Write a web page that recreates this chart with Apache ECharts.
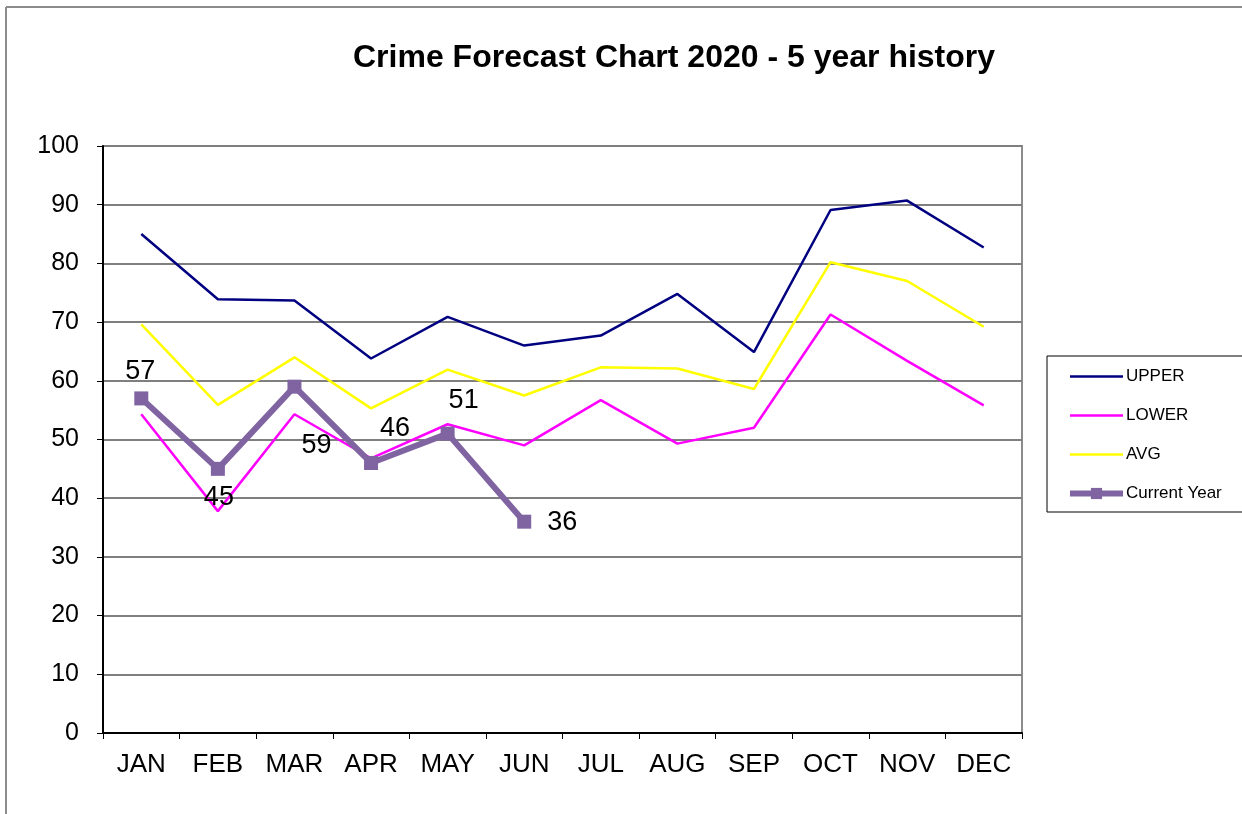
<!DOCTYPE html>
<html>
<head>
<meta charset="utf-8">
<script src="https://cdn.jsdelivr.net/npm/echarts@6/dist/echarts.min.js"></script>
<style>
html, body { margin: 0; padding: 0; background: #fff; }
#chart { width: 1242px; height: 814px; }
</style>
</head>
<body>
<div id="chart"></div>
<script>
// data
var months = ['JAN', 'FEB', 'MAR', 'APR', 'MAY', 'JUN', 'JUL', 'AUG', 'SEP', 'OCT', 'NOV', 'DEC'];
var upper = [85.0, 73.9, 73.7, 63.8, 70.9, 66.0, 67.7, 74.8, 64.9, 89.1, 90.7, 82.7];
var lower = [54.3, 37.8, 54.3, 46.8, 52.6, 49.0, 56.7, 49.3, 52.0, 71.3, 63.4, 55.8];
var avg = [69.6, 55.9, 64.0, 55.3, 61.9, 57.5, 62.3, 62.1, 58.6, 80.2, 77.0, 69.2];
var currentYear = [57, 45, 59, 46, 51, 36];
var yTicks = [0, 10, 20, 30, 40, 50, 60, 70, 80, 90, 100];

// where each data label sits relative to its point
var labelOffsets = [[-1, -27], [1, 29], [22, 59], [24, -34], [16, -33], [38, 1]];

var font = 'Liberation Sans, Arial, sans-serif';
var chart = echarts.init(document.getElementById('chart'));

var currentData = currentYear.map(function (v, i) {
    return {
        value: v,
        label: { show: true, position: 'inside', offset: labelOffsets[i] }
    };
});

chart.setOption({
    animation: false,
    backgroundColor: '#fff',
    textStyle: { fontFamily: font },
    title: {
        text: 'Crime Forecast Chart 2020 - 5 year history',
        left: 353,
        top: 42,
        padding: 0,
        textStyle: { fontFamily: font, fontSize: 32, fontWeight: 'bold', color: '#000' }
    },
    graphic: [
        { type: 'line', shape: { x1: 6, y1: 7, x2: 1242, y2: 7 }, style: { stroke: '#8c8c8c', lineWidth: 2 } },
        { type: 'line', shape: { x1: 6, y1: 7, x2: 6, y2: 814 }, style: { stroke: '#8c8c8c', lineWidth: 2 } }
    ],
    legend: {
        orient: 'vertical',
        left: 1047,
        top: 356,
        padding: [12, 40, 10, 20],
        borderColor: '#000',
        borderWidth: 1,
        itemWidth: 53,
        itemHeight: 14,
        itemGap: 22,
        textStyle: { fontFamily: font, fontSize: 17, color: '#000', padding: [0, 0, 0, -2] },
        data: [
            { name: 'UPPER', itemStyle: { opacity: 0 }, lineStyle: { width: 2.5 } },
            { name: 'LOWER', itemStyle: { opacity: 0 }, lineStyle: { width: 2.5 } },
            { name: 'AVG', itemStyle: { opacity: 0 }, lineStyle: { width: 2.5 } },
            { name: 'Current Year', lineStyle: { width: 6 } }
        ]
    },
    grid: {
        left: 103,
        top: 146,
        right: 220,
        bottom: 81,
        show: true,
        borderColor: '#8c8c8c',
        borderWidth: 2,
        backgroundColor: '#fff'
    },
    xAxis: {
        type: 'category',
        data: months,
        boundaryGap: true,
        axisLine: { lineStyle: { color: '#000', width: 2 } },
        axisTick: { show: true, length: 6, lineStyle: { color: '#000' } },
        axisLabel: { fontFamily: font, fontSize: 26, color: '#000', margin: 19, interval: 0 },
        splitLine: { show: false }
    },
    yAxis: {
        type: 'value',
        min: yTicks[0],
        max: yTicks[yTicks.length - 1],
        interval: 10,
        axisLine: { show: true, lineStyle: { color: '#000', width: 2 } },
        axisTick: { show: true, length: 6, lineStyle: { color: '#000' } },
        axisLabel: { fontFamily: font, fontSize: 25, color: '#000', margin: 24 },
        splitLine: { show: true, lineStyle: { color: '#7f7f7f', width: 2 } }
    },
    series: [{
        name: 'UPPER',
        type: 'line',
        symbol: 'none',
        lineStyle: { color: '#000080', width: 2.5 },
        itemStyle: { color: '#000080' },
        data: upper
    }, {
        name: 'LOWER',
        type: 'line',
        symbol: 'none',
        lineStyle: { color: '#ff00ff', width: 2.5 },
        itemStyle: { color: '#ff00ff' },
        data: lower
    }, {
        name: 'AVG',
        type: 'line',
        symbol: 'none',
        lineStyle: { color: '#ffff00', width: 2.5 },
        itemStyle: { color: '#ffff00' },
        data: avg
    }, {
        name: 'Current Year',
        type: 'line',
        symbol: 'rect',
        symbolSize: 14,
        lineStyle: { color: '#8064a2', width: 6 },
        itemStyle: { color: '#8064a2' },
        label: { fontFamily: font, fontSize: 27, color: '#000' },
        data: currentData
    }]
});
</script>
</body>
</html>
